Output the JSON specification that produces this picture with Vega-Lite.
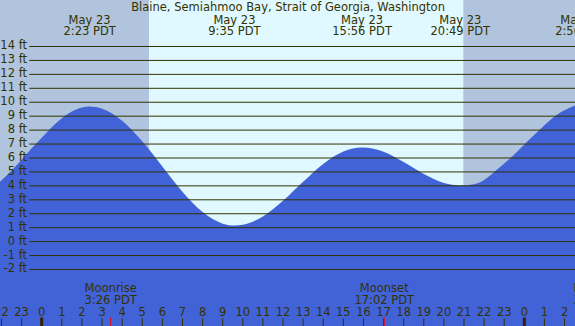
{
  "$schema": "https://vega.github.io/schema/vega-lite/v6.json",
  "width": 575,
  "height": 326,
  "autosize": "none",
  "padding": 0,
  "config": {"view": {"stroke": null}, "text": {"font": "DejaVu Sans", "fontSize": 11.5, "color": "#333300"}},
  "layer": [
    {
      "data": {"values": [
        {"start": -2.074, "end": 5.336, "period": "night"},
        {"start": 5.336, "end": 20.965, "period": "day"},
        {"start": 20.965, "end": 26.52, "period": "night"}
      ]},
      "mark": {"type": "rect"},
      "encoding": {
        "x": {"field": "start", "type": "quantitative", "scale": {"domain": [-2.074, 26.52], "nice": false, "zero": false}, "axis": null},
        "x2": {"field": "end"},
        "y": {"datum": 17.336, "type": "quantitative", "scale": {"domain": [-6.054, 17.336], "nice": false, "zero": false}, "axis": null},
        "y2": {"datum": -6.054},
        "color": {"field": "period", "type": "nominal", "scale": {"domain": ["night", "day"], "range": ["#b0c4de", "#e0f8ff"]}, "legend": null}
      }
    },
    {
      "data": {"values": [
        {"hour": -2.074, "ft": 4.3}, {"hour": -1.5, "ft": 5.11}, {"hour": -1, "ft": 5.88}, {"hour": -0.5, "ft": 6.7},
        {"hour": 0, "ft": 7.45}, {"hour": 0.5, "ft": 8.2}, {"hour": 1, "ft": 8.85}, {"hour": 1.5, "ft": 9.34},
        {"hour": 2, "ft": 9.63}, {"hour": 2.383, "ft": 9.7}, {"hour": 3, "ft": 9.54}, {"hour": 4, "ft": 8.68},
        {"hour": 5, "ft": 7.2}, {"hour": 6, "ft": 5.39}, {"hour": 7, "ft": 3.58}, {"hour": 8, "ft": 2.12},
        {"hour": 9, "ft": 1.29}, {"hour": 9.583, "ft": 1.15}, {"hour": 10, "ft": 1.21}, {"hour": 11, "ft": 1.81},
        {"hour": 12, "ft": 2.93}, {"hour": 13, "ft": 4.29}, {"hour": 14, "ft": 5.57}, {"hour": 15, "ft": 6.46},
        {"hour": 15.933, "ft": 6.75}, {"hour": 16.5, "ft": 6.66}, {"hour": 17, "ft": 6.44}, {"hour": 18, "ft": 5.71},
        {"hour": 19, "ft": 4.86}, {"hour": 20, "ft": 4.21}, {"hour": 20.817, "ft": 4.03}, {"hour": 21.5, "ft": 4.12},
        {"hour": 22, "ft": 4.42}, {"hour": 22.5, "ft": 5.0}, {"hour": 23, "ft": 5.6}, {"hour": 23.5, "ft": 6.25},
        {"hour": 24, "ft": 6.96}, {"hour": 24.5, "ft": 7.66}, {"hour": 25, "ft": 8.35}, {"hour": 25.5, "ft": 8.98},
        {"hour": 26, "ft": 9.42}, {"hour": 26.52, "ft": 9.77}
      ]},
      "mark": {"type": "area", "interpolate": "monotone", "color": "#4262d8", "clip": true},
      "encoding": {
        "x": {"field": "hour", "type": "quantitative", "scale": {"domain": [-2.074, 26.52], "nice": false, "zero": false}, "axis": null},
        "y": {"field": "ft", "type": "quantitative", "scale": {"domain": [-6.054, 17.336], "nice": false, "zero": false}, "axis": null},
        "y2": {"datum": -6.054}
      }
    },
    {
      "data": {"name": "grid", "values": [
        {"ft": -2, "label": "-2 ft"}, {"ft": -1, "label": "-1 ft"}, {"ft": 0, "label": "0 ft"}, {"ft": 1, "label": "1 ft"},
        {"ft": 2, "label": "2 ft"}, {"ft": 3, "label": "3 ft"}, {"ft": 4, "label": "4 ft"}, {"ft": 5, "label": "5 ft"},
        {"ft": 6, "label": "6 ft"}, {"ft": 7, "label": "7 ft"}, {"ft": 8, "label": "8 ft"}, {"ft": 9, "label": "9 ft"},
        {"ft": 10, "label": "10 ft"}, {"ft": 11, "label": "11 ft"}, {"ft": 12, "label": "12 ft"}, {"ft": 13, "label": "13 ft"},
        {"ft": 14, "label": "14 ft"}
      ]},
      "layer": [
        {
          "mark": {"type": "rule", "color": "#333300", "strokeWidth": 1},
          "encoding": {
            "x": {"datum": -0.617, "type": "quantitative", "scale": {"domain": [-2.074, 26.52], "nice": false, "zero": false}, "axis": null},
            "x2": {"datum": 26.52},
            "y": {"field": "ft", "type": "quantitative", "scale": {"domain": [-6.054, 17.336], "nice": false, "zero": false}, "axis": null}
          }
        },
        {
          "mark": {"type": "text", "align": "right", "baseline": "middle"},
          "encoding": {
            "x": {"datum": -0.73, "type": "quantitative", "scale": {"domain": [-2.074, 26.52], "nice": false, "zero": false}, "axis": null},
            "y": {"field": "ft", "type": "quantitative", "scale": {"domain": [-6.054, 17.336], "nice": false, "zero": false}, "axis": null},
            "text": {"field": "label"}
          }
        }
      ]
    },
    {
      "data": {"values": [{"title": "Blaine, Semiahmoo Bay, Strait of Georgia, Washington"}]},
      "mark": {"type": "text", "align": "center", "baseline": "alphabetic"},
      "encoding": {
        "x": {"datum": 12.25, "type": "quantitative", "scale": {"domain": [-2.074, 26.52], "nice": false, "zero": false}, "axis": null},
        "y": {"datum": 16.53, "type": "quantitative", "scale": {"domain": [-6.054, 17.336], "nice": false, "zero": false}, "axis": null},
        "text": {"field": "title"}
      }
    },
    {
      "data": {"values": [
        {"hour": 2.383, "date": "May 23", "time": "2:23 PDT"},
        {"hour": 9.583, "date": "May 23", "time": "9:35 PDT"},
        {"hour": 15.933, "date": "May 23", "time": "15:56 PDT"},
        {"hour": 20.817, "date": "May 23", "time": "20:49 PDT"},
        {"hour": 26.833, "date": "May 24", "time": "2:50 PDT"}
      ]},
      "layer": [
        {
          "mark": {"type": "text", "align": "center", "baseline": "alphabetic", "clip": true},
          "encoding": {
            "x": {"field": "hour", "type": "quantitative", "scale": {"domain": [-2.074, 26.52], "nice": false, "zero": false}, "axis": null},
            "y": {"datum": 15.63, "type": "quantitative", "scale": {"domain": [-6.054, 17.336], "nice": false, "zero": false}, "axis": null},
            "text": {"field": "date"}
          }
        },
        {
          "mark": {"type": "text", "align": "center", "baseline": "alphabetic", "clip": true},
          "encoding": {
            "x": {"field": "hour", "type": "quantitative", "scale": {"domain": [-2.074, 26.52], "nice": false, "zero": false}, "axis": null},
            "y": {"datum": 14.79, "type": "quantitative", "scale": {"domain": [-6.054, 17.336], "nice": false, "zero": false}, "axis": null},
            "text": {"field": "time"}
          }
        }
      ]
    },
    {
      "data": {"values": [
        {"hour": -2, "label": "22"}, {"hour": -1, "label": "23"}, {"hour": 0, "label": "0"}, {"hour": 1, "label": "1"},
        {"hour": 2, "label": "2"}, {"hour": 3, "label": "3"}, {"hour": 4, "label": "4"}, {"hour": 5, "label": "5"},
        {"hour": 6, "label": "6"}, {"hour": 7, "label": "7"}, {"hour": 8, "label": "8"}, {"hour": 9, "label": "9"},
        {"hour": 10, "label": "10"}, {"hour": 11, "label": "11"}, {"hour": 12, "label": "12"}, {"hour": 13, "label": "13"},
        {"hour": 14, "label": "14"}, {"hour": 15, "label": "15"}, {"hour": 16, "label": "16"}, {"hour": 17, "label": "17"},
        {"hour": 18, "label": "18"}, {"hour": 19, "label": "19"}, {"hour": 20, "label": "20"}, {"hour": 21, "label": "21"},
        {"hour": 22, "label": "22"}, {"hour": 23, "label": "23"}, {"hour": 24, "label": "0"}, {"hour": 25, "label": "1"},
        {"hour": 26, "label": "2"}
      ]},
      "layer": [
        {
          "mark": {"type": "rule", "color": "#333300", "strokeWidth": 1, "clip": true},
          "encoding": {
            "x": {"field": "hour", "type": "quantitative", "scale": {"domain": [-2.074, 26.52], "nice": false, "zero": false}, "axis": null},
            "y": {"datum": -5.51, "type": "quantitative", "scale": {"domain": [-6.054, 17.336], "nice": false, "zero": false}, "axis": null},
            "y2": {"datum": -6.054}
          }
        },
        {
          "mark": {"type": "text", "align": "center", "baseline": "alphabetic", "clip": true},
          "encoding": {
            "x": {"field": "hour", "type": "quantitative", "scale": {"domain": [-2.074, 26.52], "nice": false, "zero": false}, "axis": null},
            "y": {"datum": -5.35, "type": "quantitative", "scale": {"domain": [-6.054, 17.336], "nice": false, "zero": false}, "axis": null},
            "text": {"field": "label"}
          }
        }
      ]
    },
    {
      "data": {"values": [{"hour": 0}, {"hour": 24}]},
      "mark": {"type": "rule", "color": "#332200", "strokeWidth": 3},
      "encoding": {
        "x": {"field": "hour", "type": "quantitative", "scale": {"domain": [-2.074, 26.52], "nice": false, "zero": false}, "axis": null},
        "y": {"datum": -5.45, "type": "quantitative", "scale": {"domain": [-6.054, 17.336], "nice": false, "zero": false}, "axis": null},
        "y2": {"datum": -6.054}
      }
    },
    {
      "data": {"values": [
        {"hour": 3.433, "event": "Moonrise", "time": "3:26 PDT"},
        {"hour": 17.033, "event": "Moonset", "time": "17:02 PDT"},
        {"hour": 27.74, "event": "Moonrise", "time": "3:44 PDT"}
      ]},
      "layer": [
        {
          "mark": {"type": "rule", "color": "#ff0000", "strokeWidth": 1, "clip": true},
          "encoding": {
            "x": {"field": "hour", "type": "quantitative", "scale": {"domain": [-2.074, 26.52], "nice": false, "zero": false}, "axis": null},
            "y": {"datum": -5.44, "type": "quantitative", "scale": {"domain": [-6.054, 17.336], "nice": false, "zero": false}, "axis": null},
            "y2": {"datum": -6.054}
          }
        },
        {
          "mark": {"type": "text", "align": "center", "baseline": "alphabetic", "clip": true},
          "encoding": {
            "x": {"field": "hour", "type": "quantitative", "scale": {"domain": [-2.074, 26.52], "nice": false, "zero": false}, "axis": null},
            "y": {"datum": -3.63, "type": "quantitative", "scale": {"domain": [-6.054, 17.336], "nice": false, "zero": false}, "axis": null},
            "text": {"field": "event"}
          }
        },
        {
          "mark": {"type": "text", "align": "center", "baseline": "alphabetic", "clip": true},
          "encoding": {
            "x": {"field": "hour", "type": "quantitative", "scale": {"domain": [-2.074, 26.52], "nice": false, "zero": false}, "axis": null},
            "y": {"datum": -4.46, "type": "quantitative", "scale": {"domain": [-6.054, 17.336], "nice": false, "zero": false}, "axis": null},
            "text": {"field": "time"}
          }
        }
      ]
    }
  ]
}
